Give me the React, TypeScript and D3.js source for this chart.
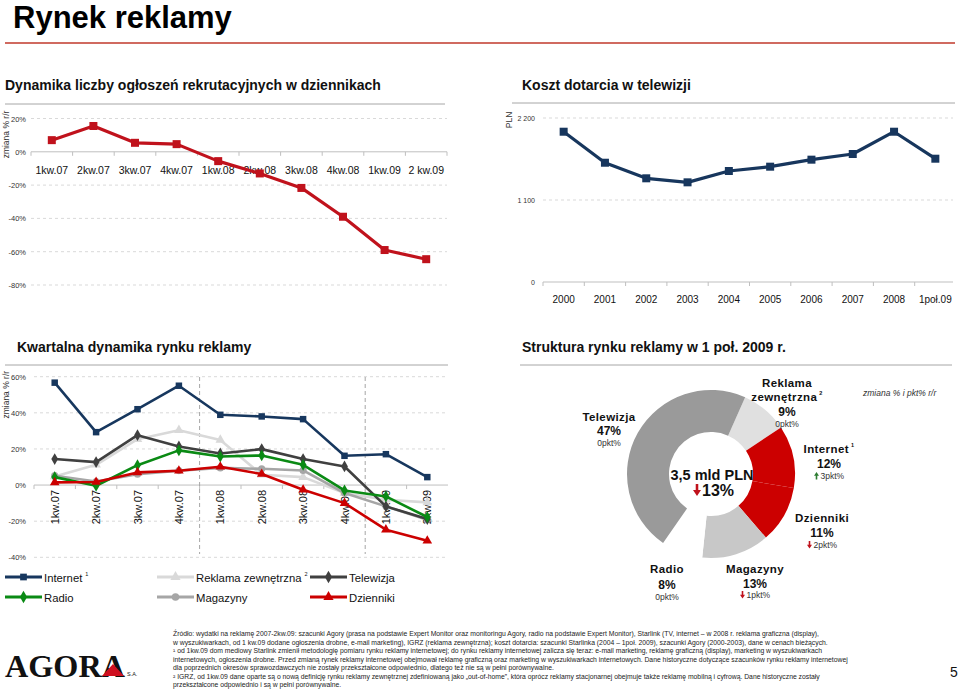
import React from 'react';
import * as d3 from 'd3';

// ---------- DATA ----------
const recruitCats = ['1kw.07', '2kw.07', '3kw.07', '4kw.07', '1kw.08', '2kw.08', '3kw.08', '4kw.08', '1kw.09', '2 kw.09'];
const recruitVals = [7, 15.5, 5.4, 4.6, -5.6, -13, -21.7, -39, -59, -64.5];
const recruitTicks = [20, 0, -20, -40, -60, -80];

const costCats = ['2000', '2001', '2002', '2003', '2004', '2005', '2006', '2007', '2008', '1poł.09'];
const costVals = [2016, 1600, 1391, 1337, 1489, 1547, 1641, 1717, 2016, 1654];
const costTicks = [0, 1100, 2200];
const costTickLabels = ['0', '1 100', '2 200'];

const quarterCats = ['1kw.07', '2kw.07', '3kw.07', '4kw.07', '1kw.08', '2kw.08', '3kw.08', '4kw.08', '1kw.09', '2kw.09'];
const internetVals = [56.7, 29.3, 42, 55, 38.9, 38, 36.5, 16.2, 17.1, 4.4];
const outdoorVals = [4.8, 11.2, 25.4, 30.4, 25, 5.7, 4.4, -4.4, -8.1, -9.6];
const tvVals = [14.4, 12.7, 27.6, 21.4, 17.5, 19.9, 14.4, 10.3, -11.8, -18.8];
const radioVals = [4.4, -0.4, 11, 19.2, 15.8, 16.4, 11.2, -3, -6.3, -17.7];
const magazineVals = [5.2, 2, 6, 8, 9.5, 9, 8.1, -4.4, -11.8, -19.2];
const dailyVals = [1.5, 1.7, 7, 7.9, 10.1, 6.1, -2.6, -10, -24.7, -30.8];
const quarterTicks = [60, 40, 20, 0, -20, -40];

const shareNames = ['Reklama zewnętrzna', 'Internet', 'Dzienniki', 'Magazyny', 'Radio', 'Telewizja'];
const shareVals = [9, 12, 11, 13, 8, 47];
const shareChangeVals = [0, 3, -2, -1, 0, 0];
const totalLabel = '3,5 mld PLN';
const totalChange = -13;

const footerLines = [
  'Źródło: wydatki na reklamę 2007-2kw.09: szacunki Agory (prasa na podstawie Expert Monitor oraz monitoringu Agory, radio na podstawie Expert Monitor), Starlink (TV, internet – w 2008 r. reklama graficzna (display),',
  'w wyszukiwarkach, od 1 kw.09 dodane ogłoszenia drobne, e-mail marketing), IGRZ (reklama zewnętrzna); koszt dotarcia: szacunki Starlinka (2004 – 1poł. 2009), szacunki Agory (2000-2003), dane w cenach bieżących.',
  '¹ od 1kw.09 dom mediowy Starlink zmienił metodologię pomiaru rynku reklamy internetowej; do rynku reklamy internetowej zalicza się teraz: e-mail marketing, reklamę graficzną (display), marketing w wyszukiwarkach',
  'internetowych, ogłoszenia drobne. Przed zmianą rynek reklamy internetowej obejmował reklamę graficzną oraz marketing w wyszukiwarkach internetowych. Dane historyczne dotyczące szacunków rynku reklamy internetowej',
  'dla poprzednich okresów sprawozdawczych nie zostały przekształcone odpowiednio, dlatego też nie są w pełni porównywalne.',
  '² IGRZ, od 1kw.09 dane oparte są o nową definicję rynku reklamy zewnętrznej zdefiniowaną jako „out-of-home”, która oprócz reklamy stacjonarnej obejmuje także reklamę mobilną i cyfrową. Dane historyczne zostały',
  'przekształcone odpowiednio i są w pełni porównywalne.',
];

// ---------- STYLE / LAYOUT ----------
const FONT = 'Arial, "Liberation Sans", Helvetica, sans-serif';
const AXIS = '#bfbfbf';
const GRID = '#d9d9d9';

const quarterSeries = [
  { name: 'Reklama zewnętrzna', sup: '2', values: outdoorVals, color: '#d9d9d9', symbol: 'triangle' },
  { name: 'Magazyny', sup: '', values: magazineVals, color: '#a6a6a6', symbol: 'circle' },
  { name: 'Telewizja', sup: '', values: tvVals, color: '#404040', symbol: 'diamond' },
  { name: 'Radio', sup: '', values: radioVals, color: '#0a8a14', symbol: 'diamond' },
  { name: 'Dzienniki', sup: '', values: dailyVals, color: '#cc0000', symbol: 'triangle' },
  { name: 'Internet', sup: '1', values: internetVals, color: '#17375e', symbol: 'square' },
];
const legendOrder = ['Internet', 'Reklama zewnętrzna', 'Telewizja', 'Radio', 'Magazyny', 'Dzienniki'];
const legendCols = [5, 157, 310];
const legendRows = [577, 597];

const shareColors = ['#e0e0e0', '#cc0000', '#cc0000', '#c8c8c8', '#ffffff', '#9a9a9a'];
const shareLabelLayout = [
  { cx: 787, lines: ['Reklama', 'zewnętrzna'], sup: '2', nameY: 387, pctY: 416, chgY: 427 },
  { cx: 829, lines: ['Internet'], sup: '1', nameY: 453, pctY: 468, chgY: 479 },
  { cx: 822, lines: ['Dzienniki'], sup: '', nameY: 522, pctY: 537, chgY: 548 },
  { cx: 755, lines: ['Magazyny'], sup: '', nameY: 573, pctY: 588, chgY: 598 },
  { cx: 667, lines: ['Radio'], sup: '', nameY: 573, pctY: 589, chgY: 600 },
  { cx: 609, lines: ['Telewizja'], sup: '', nameY: 421, pctY: 434.5, chgY: 446 },
];

function symbolPath(kind: string, size: number) {
  const t = kind === 'triangle' ? d3.symbolTriangle : kind === 'diamond' ? d3.symbolDiamond : kind === 'circle' ? d3.symbolCircle : d3.symbolSquare;
  return d3.symbol().type(t).size(size)()!;
}

function arrowPath(x: number, y: number, w: number, h: number, up: boolean) {
  const sw = w * 0.32;
  const hh = h * 0.5;
  if (up) {
    return `M${x},${y} L${x + w / 2},${y + hh} L${x + sw / 2},${y + hh} L${x + sw / 2},${y + h} L${x - sw / 2},${y + h} L${x - sw / 2},${y + hh} L${x - w / 2},${y + hh} Z`;
  }
  return `M${x},${y + h} L${x + w / 2},${y + h - hh} L${x + sw / 2},${y + h - hh} L${x + sw / 2},${y} L${x - sw / 2},${y} L${x - sw / 2},${y + h - hh} L${x - w / 2},${y + h - hh} Z`;
}

export default function App() {
  const x1 = d3.scaleBand<string>().domain(recruitCats).range([31, 447]);
  const y1 = d3.scaleLinear().domain([-80, 20]).range([285, 118.5]);
  const cx1 = (i: number) => (x1(recruitCats[i]) as number) + x1.bandwidth() / 2;
  const line1 = d3.line<number>().x((_, i) => cx1(i)).y((d) => y1(d));

  const x2 = d3.scaleBand<string>().domain(costCats).range([543, 956]);
  const y2 = d3.scaleLinear().domain([0, 2200]).range([282, 118]);
  const cx2 = (i: number) => (x2(costCats[i]) as number) + x2.bandwidth() / 2;
  const line2 = d3.line<number>().x((_, i) => cx2(i)).y((d) => y2(d));

  const x3 = d3.scaleBand<string>().domain(quarterCats).range([34, 448]);
  const y3 = d3.scaleLinear().domain([-40, 60]).range([557.3, 376.7]);
  const cx3 = (i: number) => (x3(quarterCats[i]) as number) + x3.bandwidth() / 2;
  const line3 = d3.line<number>().x((_, i) => cx3(i)).y((d) => y3(d));

  const pie = d3.pie<number>().sort(null).value((d) => d).startAngle((24 * Math.PI) / 180).endAngle((24 * Math.PI) / 180 + 2 * Math.PI);
  const arcs = pie(shareVals);
  const arc = d3.arc<d3.PieArcDatum<number>>().innerRadius(42).outerRadius(84);
  const dcx = 711, dcy = 474;

  return (
    <svg width={960} height={691} viewBox="0 0 960 691" style={{ position: 'absolute', left: 0, top: 0, background: '#fff' }} fontFamily={FONT}>
      <rect x={0} y={0} width={960} height={691} fill="#fff" />
      <text x={13} y={28} fontSize={31} fontWeight="bold" fill="#000">Rynek reklamy</text>
      <line x1={5} x2={955} y1={43} y2={43} stroke="#c0392b" strokeWidth={1.5} />

      <text x={5} y={90} fontSize={14} fontWeight="bold" fill="#111">Dynamika liczby ogłoszeń rekrutacyjnych w dziennikach</text>
      <line x1={5} x2={445} y1={104} y2={104} stroke="#a6a6a6" strokeWidth={1} />
      <text x={522} y={90} fontSize={14} fontWeight="bold" fill="#111">Koszt dotarcia w telewizji</text>
      <line x1={512} x2={955} y1={103} y2={103} stroke="#a6a6a6" strokeWidth={1} />
      <text x={17} y={352} fontSize={14} fontWeight="bold" fill="#111">Kwartalna dynamika rynku reklamy</text>
      <line x1={5} x2={448} y1={365} y2={365} stroke="#a6a6a6" strokeWidth={1} />
      <text x={522} y={352} fontSize={14} fontWeight="bold" fill="#111">Struktura rynku reklamy w 1 poł. 2009 r.</text>
      <line x1={520} x2={952} y1={365} y2={365} stroke="#a6a6a6" strokeWidth={1} />

      {/* ===== Chart 1 ===== */}
      <text transform={`translate(9,${y1(20) + 16}) rotate(-90)`} fontSize={8.5} fill="#333" textAnchor="middle">zmiana % r/r</text>
      {recruitTicks.map((t) => (
        <g key={t}>
          {t !== 0 && <line x1={31} x2={447} y1={y1(t)} y2={y1(t)} stroke={GRID} strokeDasharray="3,3" />}
          <text x={26} y={y1(t) + 3} fontSize={7.5} fill="#333" textAnchor="end">{t}%</text>
        </g>
      ))}
      <line x1={31} x2={447} y1={y1(0)} y2={y1(0)} stroke={AXIS} />
      {recruitCats.map((c) => (
        <line key={'t' + c} x1={x1(c)} x2={x1(c)} y1={y1(0)} y2={y1(0) + 4} stroke={AXIS} />
      ))}
      <line x1={447} x2={447} y1={y1(0)} y2={y1(0) + 4} stroke={AXIS} />
      {recruitCats.map((c, i) => (
        <text key={c} x={cx1(i)} y={174} fontSize={10.5} fill="#111" textAnchor="middle">{c}</text>
      ))}
      <path d={line1(recruitVals)!} fill="none" stroke="#c0121c" strokeWidth={3.2} strokeLinejoin="round" />
      {recruitVals.map((v, i) => (
        <rect key={i} x={cx1(i) - 4} y={y1(v) - 4} width={8} height={8} fill="#c0121c" />
      ))}

      {/* ===== Chart 2 ===== */}
      <text transform={`translate(512,${y2(2200) + 2}) rotate(-90)`} fontSize={8.5} fill="#333" textAnchor="middle">PLN</text>
      {costTicks.map((t, i) => (
        <g key={t}>
          {t !== 0 && <line x1={543} x2={953} y1={y2(t)} y2={y2(t)} stroke={GRID} strokeDasharray="3,3" />}
          <text x={535} y={y2(t) + 3} fontSize={7} fill="#333" textAnchor="end">{costTickLabels[i]}</text>
        </g>
      ))}
      <line x1={543} x2={953} y1={y2(0)} y2={y2(0)} stroke={AXIS} />
      {costCats.map((c) => (
        <line key={'t' + c} x1={x2(c)} x2={x2(c)} y1={y2(0)} y2={y2(0) + 4} stroke={AXIS} />
      ))}
      {costCats.map((c, i) => (
        <text key={c} x={cx2(i)} y={303} fontSize={10} fill="#111" textAnchor="middle">{c}</text>
      ))}
      <path d={line2(costVals)!} fill="none" stroke="#17365d" strokeWidth={3.2} strokeLinejoin="round" />
      {costVals.map((v, i) => (
        <rect key={i} x={cx2(i) - 4} y={y2(v) - 4} width={8} height={8} fill="#17365d" />
      ))}

      {/* ===== Chart 3 ===== */}
      <text transform={`translate(9,${y3(60) + 18}) rotate(-90)`} fontSize={8.5} fill="#333" textAnchor="middle">zmiana % r/r</text>
      {quarterTicks.map((t) => (
        <g key={t}>
          {t !== 0 && <line x1={34} x2={448} y1={y3(t)} y2={y3(t)} stroke={GRID} strokeDasharray="3,3" />}
          <text x={26} y={y3(t) + 3} fontSize={7.5} fill="#333" textAnchor="end">{t}%</text>
        </g>
      ))}
      <line x1={34} x2={448} y1={y3(0)} y2={y3(0)} stroke={AXIS} />
      {quarterCats.map((c) => (
        <line key={'t' + c} x1={x3(c)} x2={x3(c)} y1={y3(0)} y2={y3(0) + 4} stroke={AXIS} />
      ))}
      {[quarterCats[4], quarterCats[8]].map((c) => (
        <line key={'sep' + c} x1={x3(c)} x2={x3(c)} y1={377} y2={554} stroke="#a6a6a6" strokeDasharray="4,3" />
      ))}
      {quarterCats.map((c, i) => (
        <text key={c} transform={`translate(${cx3(i) + 4},490) rotate(-90)`} fontSize={11} fill="#111" textAnchor="end">{c}</text>
      ))}
      {quarterSeries.map((s) => (
        <g key={s.name}>
          <path d={line3(s.values)!} fill="none" stroke={s.color} strokeWidth={2.6} strokeLinejoin="round" />
          {s.values.map((v, i) => (
            <path key={i} d={symbolPath(s.symbol, s.symbol === 'square' ? 42 : 40)} transform={`translate(${cx3(i)},${y3(v)})`} fill={s.color} />
          ))}
        </g>
      ))}
      {legendOrder.map((n, k) => {
        const s = quarterSeries.find((q) => q.name === n)!;
        const lx = legendCols[k % 3];
        const ly = legendRows[Math.floor(k / 3)];
        return (
          <g key={'lg' + n}>
            <line x1={lx} x2={lx + 37} y1={ly} y2={ly} stroke={s.color} strokeWidth={3} />
            <path d={symbolPath(s.symbol, 45)} transform={`translate(${lx + 18.5},${ly})`} fill={s.color} />
            <text x={lx + 39} y={ly + 4.5} fontSize={11.3} fill="#111">
              {s.name}
              {s.sup && <tspan fontSize={5.5} dx={3} dy={-6}>{s.sup}</tspan>}
            </text>
          </g>
        );
      })}

      {/* ===== Donut ===== */}
      <g transform={`translate(${dcx},${dcy})`}>
        {arcs.map((a, i) => (
          <path key={i} d={arc(a)!} fill={shareColors[i]} />
        ))}
      </g>
      <text x={712} y={480} fontSize={14.5} fontWeight="bold" fill="#111" textAnchor="middle">{totalLabel}</text>
      <path d={arrowPath(697, 484, 8, 12, totalChange > 0)} fill="#c0121c" />
      <text x={702} y={496} fontSize={16} fontWeight="bold" fill="#111">{Math.abs(totalChange)}%</text>
      <text x={863} y={396} fontSize={8.5} fontStyle="italic" fill="#333">zmiana % i pkt% r/r</text>
      {shareNames.map((n, i) => {
        const L = shareLabelLayout[i];
        const ch = shareChangeVals[i];
        const chText = `${Math.abs(ch)}pkt%`;
        const tw = chText.length * 4.6;
        return (
          <g key={'dl' + n}>
            {L.lines.map((ln, j) => (
              <text key={j} x={L.cx} y={L.nameY + j * 14} fontSize={11.5} fontWeight="bold" fill="#111" textAnchor="middle" letterSpacing={0.4}>
                {ln}
                {j === L.lines.length - 1 && L.sup && <tspan fontSize={5.5} dx={2} dy={-6}>{L.sup}</tspan>}
              </text>
            ))}
            <text x={L.cx} y={L.pctY} fontSize={12} fontWeight="bold" fill="#111" textAnchor="middle">{shareVals[i]}%</text>
            {ch === 0 ? (
              <text x={L.cx} y={L.chgY} fontSize={8.5} fill="#333" textAnchor="middle">{chText}</text>
            ) : (
              <g>
                <path d={arrowPath(L.cx - tw / 2 - 1, L.chgY - 7, 5, 7.5, ch > 0)} fill={ch > 0 ? '#2e7d32' : '#c0121c'} />
                <text x={L.cx - tw / 2 + 3} y={L.chgY} fontSize={8.5} fill="#333">{chText}</text>
              </g>
            )}
          </g>
        );
      })}

      {/* ===== Footer ===== */}
      {footerLines.map((l, i) => (
        <text key={i} x={173} y={636 + i * 8.5} fontSize={6.8} fill="#222">{l}</text>
      ))}
      <text x={950} y={677} fontSize={14} fill="#111">5</text>
      <g>
        <text x={5} y={677} fontSize={31} fontWeight="bold" fontFamily='"Liberation Serif", "DejaVu Serif", serif' fill="#111" textLength={120} lengthAdjust="spacingAndGlyphs">AGORA</text>
        <path d="M102,676 L113,664 L124,676 Z" fill="#d01020" />
        <text x={127} y={676} fontSize={5.5} fill="#111">S.A.</text>
      </g>
    </svg>
  );
}
